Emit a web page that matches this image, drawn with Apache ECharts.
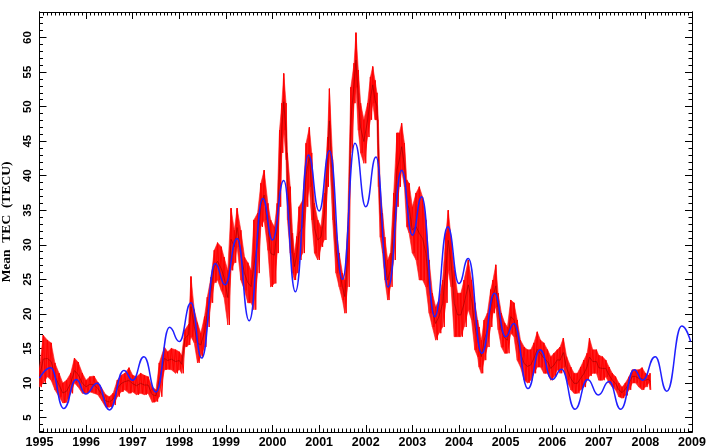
<!DOCTYPE html>
<html><head><meta charset="utf-8">
<script src="https://cdn.jsdelivr.net/npm/echarts@6/dist/echarts.min.js"></script>
<style>html,body{margin:0;padding:0;background:#fff}#c{width:707px;height:448px}</style>
</head><body><div id="c"></div>
<script>
const xTicks = [1995,1996,1997,1998,1999,2000,2001,2002,2003,2004,2005,2006,2007,2008,2009];
const yTicks = [5,10,15,20,25,30,35,40,45,50,55,60];
const yMinorTicks = [3,4,5,6,7,8,9,10,11,12,13,14,15,16,17,18,19,20,21,22,23,24,25,26,27,28,29,30,31,32,33,34,35,36,37,38,39,40,41,42,43,44,45,46,47,48,49,50,51,52,53,54,55,56,57,58,59,60,61,62,63];

// Measured TEC (red): time, upper and lower edge of the daily scatter
const redT = [1995.00,1995.08,1995.17,1995.25,1995.33,1995.42,1995.50,1995.58,1995.67,1995.75,1995.83,1995.92,
1996.00,1996.08,1996.17,1996.25,1996.33,1996.42,1996.50,1996.58,1996.67,1996.75,1996.83,1996.92,
1997.00,1997.08,1997.17,1997.25,1997.33,1997.42,1997.50,1997.57,1997.68,1997.75,1997.83,1997.92,
1998.00,1998.05,1998.12,1998.20,1998.25,1998.32,1998.39,1998.46,1998.54,1998.60,1998.68,1998.75,1998.82,1998.90,1998.96,
1999.04,1999.11,1999.18,1999.24,1999.32,1999.40,1999.47,1999.54,1999.60,1999.68,1999.75,1999.82,1999.90,1999.96,
2000.04,2000.10,2000.15,2000.20,2000.24,2000.29,2000.32,2000.38,2000.43,2000.47,2000.52,2000.57,2000.65,2000.72,2000.79,2000.84,2000.90,2000.97,
2001.04,2001.11,2001.18,2001.22,2001.29,2001.36,2001.43,2001.50,2001.55,2001.61,2001.68,2001.75,2001.79,2001.84,2001.89,2001.96,
2002.04,2002.10,2002.15,2002.20,2002.24,2002.27,2002.31,2002.36,2002.41,2002.47,2002.53,2002.60,2002.67,2002.72,2002.77,2002.83,2002.88,2002.93,
2003.00,2003.08,2003.15,2003.22,2003.29,2003.36,2003.43,2003.50,2003.57,2003.65,2003.72,2003.77,2003.83,2003.90,2003.97,
2004.04,2004.11,2004.20,2004.27,2004.34,2004.40,2004.43,2004.48,2004.54,2004.61,2004.68,2004.73,2004.79,2004.84,2004.91,2004.98,
2005.04,2005.11,2005.18,2005.25,2005.32,2005.40,2005.47,2005.54,2005.61,2005.68,2005.75,2005.82,2005.90,2005.97,
2006.04,2006.11,2006.17,2006.24,2006.31,2006.40,2006.47,2006.54,2006.61,2006.68,2006.75,2006.80,2006.87,2006.95,
2007.00,2007.08,2007.15,2007.22,2007.29,2007.36,2007.43,2007.50,2007.57,2007.65,2007.72,2007.79,2007.86,2007.93,
2008.00,2008.07,2008.10];
const redHi = [12.2,16.9,16.2,15.8,12.9,11.4,10.0,10.4,11.4,13.6,13.0,11.4,
10.4,10.9,11.0,10.1,9.3,8.3,8.0,8.5,10.4,11.1,11.4,12.2,
11.1,10.9,11.4,11.1,10.9,9.4,9.0,12.9,15.2,14.5,15.0,14.8,
14.5,14.0,17.7,18.5,25.4,20.6,18.7,17.2,19.6,22.4,25.3,29.2,30.3,29.7,28.2,
26.3,35.3,32.1,35.3,32.1,28.2,27.4,26.3,33.6,34.6,38.9,40.8,36.0,33.6,
32.6,36.0,46.6,50.5,54.8,50.5,43.3,38.4,31.7,28.8,31.2,35.5,36.5,44.7,47.0,43.3,36.0,33.6,
32.6,37.5,45.6,52.6,42.3,32.6,28.8,25.9,24.9,32.6,52.8,56.3,60.7,55.3,50.5,48.1,
50.5,54.3,55.8,53.8,52.0,48.1,38.4,34.6,31.1,27.8,28.8,37.5,46.2,46.2,47.6,44.7,39.4,38.9,
35.5,37.5,38.4,36.9,33.6,27.8,23.0,21.0,22.0,24.9,31.7,35.0,31.1,26.3,23.0,
23.0,24.9,27.8,24.9,21.6,19.1,18.1,16.2,19.1,20.1,23.5,24.9,27.1,23.0,20.1,18.7,
18.1,22.0,21.6,19.1,16.2,15.2,14.8,14.8,15.8,17.4,16.2,15.8,14.8,13.8,
14.3,14.8,15.2,16.5,13.8,12.3,11.4,11.4,12.3,13.3,14.3,16.5,14.8,14.8,
14.0,13.8,13.3,12.3,11.4,10.9,10.0,9.4,10.0,10.9,11.9,11.9,11.9,12.2,
11.4,11.1,11.4];
const redLo = [9.4,10.0,10.9,10.4,9.0,8.0,7.1,7.2,8.5,10.0,9.4,8.5,
8.5,8.7,8.5,8.3,7.5,6.5,6.5,6.8,8.0,8.7,9.0,8.5,
8.7,8.3,8.5,8.3,8.5,7.2,7.3,8.0,11.9,12.0,11.9,11.4,
12.0,11.4,15.2,15.5,16.7,15.8,12.9,13.8,15.2,18.1,21.6,24.5,24.9,23.4,22.4,
18.4,26.3,27.4,29.7,24.9,23.4,21.6,21.6,20.6,25.9,32.6,33.6,29.2,23.9,
24.4,28.8,35.5,43.3,46.6,42.3,33.6,28.8,25.9,24.9,25.9,27.8,28.8,35.5,38.4,33.6,28.8,27.8,
29.7,30.7,38.4,43.3,33.6,25.9,23.9,22.0,20.1,23.9,43.3,50.5,52.8,46.6,43.3,41.8,
45.6,48.1,50.5,48.1,48.1,38.4,31.1,28.8,24.9,22.0,23.9,27.8,35.5,38.4,40.8,38.4,32.6,31.7,
28.8,27.8,24.9,24.9,23.9,20.1,18.1,16.2,17.2,18.1,21.6,26.3,23.9,16.7,16.7,
16.7,18.1,20.6,19.1,14.8,13.8,12.3,11.4,13.3,15.2,18.1,20.1,21.0,17.7,15.2,14.3,
14.3,17.2,16.7,13.3,12.3,10.4,10.0,10.4,11.4,12.3,12.3,11.4,11.4,10.4,
10.9,11.9,11.4,12.3,10.4,9.0,8.5,8.5,9.0,9.4,10.4,11.0,11.4,11.4,
10.4,10.4,10.9,10.0,9.4,9.0,8.0,7.8,8.2,9.0,10.0,10.0,9.4,9.0,
9.4,10.0,9.0];

// Model TEC (blue)
const blueT = [1995.00,1995.24,1995.52,1995.79,1995.99,1996.24,1996.50,1996.81,1997.00,1997.24,1997.50,1997.79,
1998.00,1998.25,1998.48,1998.77,1998.98,1999.24,1999.50,1999.79,2000.00,2000.24,2000.49,2000.77,
2001.00,2001.22,2001.50,2001.77,2002.00,2002.22,2002.48,2002.77,2003.00,2003.20,2003.48,2003.76,
2004.00,2004.20,2004.49,2004.76,2005.00,2005.18,2005.48,2005.74,2006.00,2006.20,2006.49,2006.76,
2006.99,2007.22,2007.47,2007.76,2007.94,2008.21,2008.46,2008.78,2008.97];
const blueV = [10.7,12.2,6.3,10.5,8.4,9.95,6.1,11.8,10.4,13.8,8.7,18.05,
16.0,21.6,13.6,27.3,24.2,30.9,19.0,36.7,30.7,39.3,23.2,43.0,
34.9,43.6,25.0,44.7,35.5,42.7,23.9,40.8,31.4,36.95,19.6,32.6,
24.4,28.0,14.3,23.0,16.7,18.6,9.2,14.8,10.5,12.0,6.2,10.5,
8.25,10.2,6.2,11.9,10.4,13.8,8.8,18.25,16.0];

const redZig = [], redRows = [], redMid = [];
for (let i = 0; i < redT.length; i++) {
  const tn = i + 1 < redT.length ? redT[i + 1] : redT[i] + 0.03;
  redZig.push([redT[i], redHi[i]]);
  redZig.push([(redT[i] + tn) / 2, redLo[i]]);
  redRows.push([redT[i], redHi[i], redLo[i]]);
  redMid.push([redT[i], (redHi[i] + redLo[i]) / 2]);
}
const blueData = blueT.map((t, i) => [t, blueV[i]]);

// band segment between reading i and i+1, placed through the axes
function renderBand(params, api) {
  const i = params.dataIndex;
  if (i + 1 >= redRows.length) return null;
  const a = redRows[i], b = redRows[i + 1];
  const p1 = api.coord([a[0], a[1]]), p2 = api.coord([b[0], b[1]]);
  const p3 = api.coord([b[0], b[2]]), p4 = api.coord([a[0], a[2]]);
  return {type: 'polygon', shape: {points: [p1, p2, p3, p4]},
    style: {fill: '#ff1a1a', stroke: '#ff1a1a', lineWidth: 0.6}};
}

const Y_MIN = 2.9, Y_MAX = 63.7;
const lbl = {color: '#000', fontFamily: 'Liberation Sans', fontWeight: 'bold'};
function xAx(pos, showLabel) {
  return {type: 'value', position: pos, min: 1995, max: 2009, interval: 1,
    axisLine: {show: true, onZero: false, lineStyle: {color: '#000', width: 1}},
    axisTick: {show: true, inside: true, length: 7, lineStyle: {color: '#000'}},
    minorTick: {show: true, splitNumber: 12, length: 3.5, lineStyle: {color: '#000'}},
    axisLabel: Object.assign({show: showLabel, margin: 4, fontSize: 12.5, formatter: v => String(v)}, lbl),
    splitLine: {show: false}, minorSplitLine: {show: false}};
}
function yAx(pos, major, showLabel) {
  const o = {type: 'value', position: pos, min: Y_MIN, max: Y_MAX,
    axisLine: {show: true, onZero: false, lineStyle: {color: '#000', width: 1}},
    axisTick: {show: true, inside: true, length: major ? 7 : 3.5, lineStyle: {color: '#000'},
      customValues: major ? yTicks : yMinorTicks},
    axisLabel: Object.assign({show: showLabel, rotate: 90, margin: 6, fontSize: 11.5, customValues: yTicks}, lbl),
    splitLine: {show: false}};
  if (showLabel) {
    o.name = 'Mean  TEC  (TECU)';
    o.nameLocation = 'middle';
    o.nameGap = 23;
    o.nameTextStyle = {fontFamily: 'Liberation Serif', fontSize: 13.5, color: '#000', fontWeight: 'bold'};
  }
  return o;
}
const chart = echarts.init(document.getElementById('c'), null, {renderer: 'canvas'});
chart.setOption({
  animation: false,
  backgroundColor: '#fff',
  grid: {left: 39.5, right: 15, top: 12, bottom: 16, containLabel: false, outerBoundsMode: 'none'},
  xAxis: [xAx('bottom', true), xAx('top', false)],
  yAxis: [yAx('left', true, true), yAx('left', false, false), yAx('right', true, false), yAx('right', false, false)],
  series: [
    {type: 'custom', data: redRows, renderItem: renderBand, silent: true,
      encode: {x: 0, y: [1, 2]}},
    {type: 'line', data: redZig, symbol: 'none',
      lineStyle: {color: '#ff0000', width: 1}},
    {type: 'line', data: redMid, symbol: 'none',
      lineStyle: {color: '#900000', width: 1, opacity: 0.55}},
    {type: 'line', data: blueData, symbol: 'none',
      smooth: 0.5, smoothMonotone: 'x',
      lineStyle: {color: '#2020ff', width: 1.5}}
  ]
});
</script>
</body></html>
